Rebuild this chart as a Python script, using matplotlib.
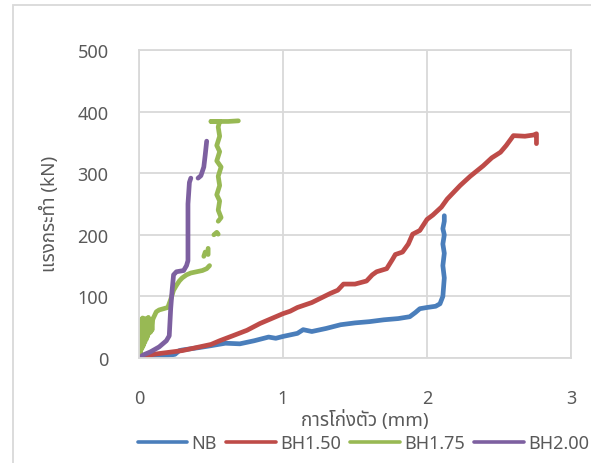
import numpy as np
import matplotlib
matplotlib.use("Agg")
import matplotlib.pyplot as plt
from matplotlib.patches import Rectangle

# Latin from Noto Sans, Thai glyphs fall through to Noto Sans Thai
plt.rcParams['font.family'] = ['Noto Sans', 'Noto Sans Thai', 'DejaVu Sans']

nan = np.nan

# NB
nb_x = [0, 0.05, 0.1, 0.15, 0.2, 0.25, 0.28, 0.3, 0.42, 0.5, 0.6, 0.7, 0.8, 0.9, 0.95, 1.0, 1.1, 1.14,
        1.2, 1.3, 1.4, 1.5, 1.6, 1.7, 1.8, 1.88, 1.92, 1.95, 2.0, 2.06, 2.09, 2.11, 2.12, 2.11, 2.12,
        2.11, 2.12, 2.11, 2.12, 2.12]
nb_y = [0, 1, 0, 3, 4, 6, 12, 13, 17, 20, 24, 23, 28, 34, 32, 35, 40, 46,
        43, 48, 54, 57, 59, 62, 64, 67, 74, 80, 82, 84, 88, 100, 130, 150, 170,
        185, 200, 210, 222, 231]

# BH1.50
bh150_x = [0, 0.05, 0.1, 0.2, 0.3, 0.4, 0.5, 0.56, 0.65, 0.75, 0.84, 0.9, 1.0, 1.05, 1.1, 1.15, 1.2,
           1.33, 1.38, 1.42, 1.5, 1.58, 1.62, 1.65, 1.72, 1.76, 1.78, 1.83, 1.87, 1.9, 1.95, 2.0,
           2.04, 2.1, 2.14, 2.23, 2.3, 2.39, 2.45, 2.51, 2.55, 2.6, 2.68, 2.74, 2.76, 2.76]
bh150_y = [0, 3, 6, 9, 12, 17, 22, 28, 36, 45, 56, 62, 72, 76, 82, 86, 90,
           105, 110, 120, 120, 125, 135, 140, 145, 160, 168, 172, 185, 201, 207, 225,
           232, 245, 258, 280, 295, 312, 325, 334, 345, 361, 360, 362, 364, 348]

# BH1.75 (gaps in the record kept as nan)
bh175_x = [0, 0.005, 0.01, 0.015, 0.02, 0.025, 0.03, 0.035, 0.04, 0.045, 0.05, 0.055, 0.06, 0.065,
           0.07, 0.075, 0.08, 0.085, 0.09, 0.095, 0.1, 0.11, 0.12, 0.14,
           0.17, 0.2, 0.22, 0.24, 0.26, 0.28, 0.3, 0.33, 0.36, 0.4, 0.44, 0.47, 0.49, nan,
           0.45, 0.46, 0.48, 0.48, nan,
           0.52, 0.54, 0.55, nan,
           0.55, 0.57, 0.55, 0.56, 0.54, 0.56, 0.55, 0.57, 0.54, 0.56, 0.54, 0.56, 0.55, 0.56,
           0.5, 0.62, 0.69]
bh175_y = [0, 55, 5, 62, 15, 65, 20, 60, 25, 64, 30, 62, 35, 66,
           40, 60, 42, 63, 45, 62, 65, 70, 75, 78,
           80, 82, 95, 110, 118, 125, 130, 135, 138, 140, 142, 145, 150, nan,
           165, 172, 168, 178, nan,
           200, 204, 201, nan,
           222, 228, 240, 255, 265, 280, 295, 310, 320, 335, 345, 360, 375, 384,
           384, 384, 385]

# BH2.00
bh200_x = [0, 0.03, 0.08, 0.14, 0.19, 0.21, 0.22, 0.23, 0.24, 0.26, 0.31, 0.33, 0.34, 0.34, 0.34,
           0.35, 0.36, nan, 0.41, 0.43, 0.45, 0.46, 0.47]
bh200_y = [0, 5, 10, 18, 28, 36, 80, 110, 135, 140, 142, 150, 158, 200, 250,
           285, 292, nan, 292, 296, 310, 330, 352]

fig = plt.figure(figsize=(5.91, 4.64), dpi=100)
ax = fig.add_axes([0.2352, 0.2263, 0.731, 0.6638])

ax.plot(nb_x, nb_y, color='#4A7EBB', lw=3.4, label='NB', solid_capstyle='round')
ax.plot(bh150_x, bh150_y, color='#BE4B48', lw=3.4, label='BH1.50', solid_capstyle='round')
ax.plot(bh175_x, bh175_y, color='#98B954', lw=3.4, label='BH1.75', solid_capstyle='round')
ax.plot(bh200_x, bh200_y, color='#7D60A0', lw=3.4, label='BH2.00', solid_capstyle='round')

ax.set_xlim(0, 3)
ax.set_ylim(0, 500)
ax.set_xticks([0, 1, 2, 3])
ax.set_yticks([0, 100, 200, 300, 400, 500])
ax.grid(color='#D9D9D9', lw=1.3)
ax.set_axisbelow(True)
for s in ax.spines.values():
    s.set_color('#D9D9D9')
    s.set_linewidth(1.3)
ax.tick_params(length=0, labelsize=13, colors='#595959', pad=22)

ax.set_xlabel('การโก่งตัว (mm)', fontsize=13.5, color='#595959')
ax.xaxis.set_label_coords(0.523, -0.165)
ax.set_ylabel('แรงกระทำ (kN)', fontsize=13.5, color='#595959')
ax.yaxis.set_label_coords(-0.185, 0.47)

leg = ax.legend(loc='center', bbox_to_anchor=(0.615, 0.043), bbox_transform=fig.transFigure,
                ncol=4, frameon=False, fontsize=13, handlelength=2.75, handletextpad=0.25,
                columnspacing=0.5, labelcolor='#595959')
for h in leg.legend_handles:
    h.set_linewidth(2.6)

# chart box outline (runs off the right and bottom edges in the reference)
fig.patches.append(Rectangle((13 / 591, -0.02), 1.0, 1 - 6 / 464 + 0.02, transform=fig.transFigure,
                             fill=False, edgecolor='#D9D9D9', lw=1.3))

fig.savefig('out.png', dpi=100)
